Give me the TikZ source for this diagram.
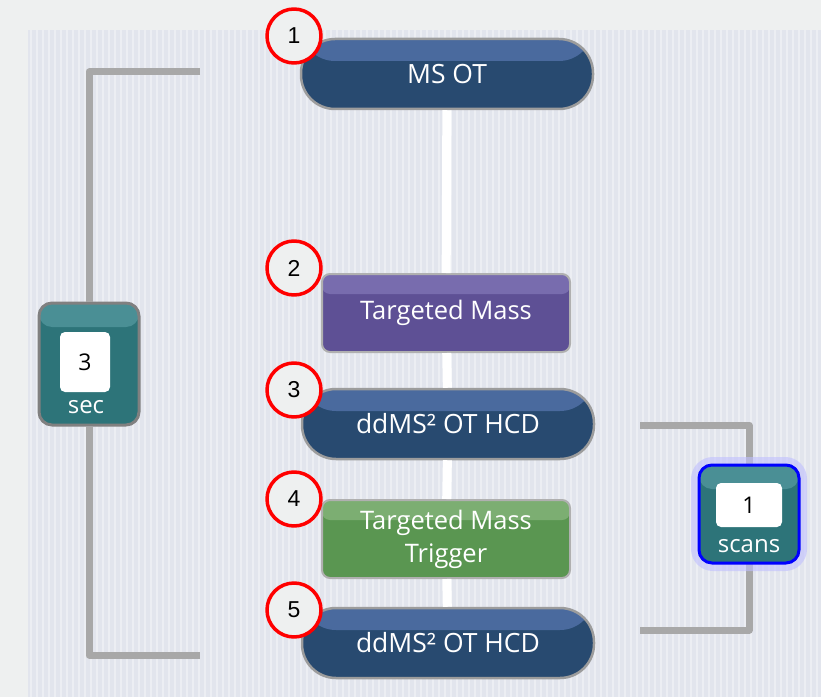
\documentclass[tikz,border=0pt]{standalone}
\usepackage{fontspec}
\setmainfont{Open Sans}
\newfontfamily\numfont{Liberation Sans}
\usetikzlibrary{positioning}
\definecolor{outer}{HTML}{EEF0F0}
\definecolor{panel}{HTML}{E2E5ED}
\definecolor{pill}{HTML}{284A70}
\definecolor{pilltop}{HTML}{4A6A9E}
\definecolor{purp}{HTML}{5E5095}
\definecolor{purptop}{HTML}{786CAE}
\definecolor{grn}{HTML}{5A9651}
\definecolor{grntop}{HTML}{7CAE72}
\definecolor{teal}{HTML}{2D7479}
\definecolor{tealtop}{HTML}{4A8F95}
\definecolor{brk}{HTML}{A8A8A8}
\definecolor{rim}{HTML}{9C9C9C}
\begin{document}
\begin{tikzpicture}[x=1pt,y=-1pt,line join=round,
  band/.style 2 args={path picture={\fill[#1] (path picture bounding box.north west) rectangle ([yshift=-#2]path picture bounding box.north east);}},
  stage/.style={draw=rim,line width=2.5pt,rounded corners=34pt,minimum width=292pt,minimum height=70pt,text=white,font=\fontsize{26.5}{28}\selectfont,fill=pill,band={pilltop}{22pt}},
  flag/.style={draw=rim!80,line width=2pt,rounded corners=8pt,minimum width=248pt,minimum height=78pt,text=white,font=\fontsize{25.5}{33}\selectfont,align=center},
  num/.style={circle,draw=red,line width=3.5pt,fill=outer,minimum size=54pt,inner sep=0pt,font=\numfont\fontsize{23}{25}\selectfont},
  timer/.style={draw=#1,line width=3pt,rounded corners=13pt,fill=teal,band={tealtop}{24pt}},
  valbox/.style={fill=white,rounded corners=5pt,inner sep=0pt,font=\fontsize{23}{26}\selectfont},
  unit/.style={text=white,inner sep=0pt,font=\fontsize{24}{26}\selectfont},
  bracket/.style={brk,line width=7pt},
  link/.style={white,line width=9pt}]
% background and stripes
\fill[outer] (0,0) rectangle (821,697);
\fill[panel] (28,30) rectangle (821,697);
\foreach \x in {31,37,...,821}
  \draw[white,opacity=.35,line width=1.5pt] (\x,30) -- (\x,697);
% method steps
\node[stage] (ms) at (447,74) {MS OT};
\node[flag,fill=purp,band={purptop}{20pt}] (tm) at (446,313) {Targeted Mass};
\node[stage] (hcda) at (448,424) {ddMS² OT HCD};
\node[flag,fill=grn,band={grntop}{20pt}] (tmt) at (446,539) {Targeted Mass\\Trigger};
\node[stage] (hcdb) at (448,643) {ddMS² OT HCD};
\foreach \a/\b in {ms/tm,tm/hcda,hcda/tmt,tmt/hcdb}
  \draw[link] (\a) -- (\b);
\foreach \n/\y in {1/36,2/268,3/390,4/499,5/610}
  \node[num] (c\n) at (294,\y) {\n};
% cycle time
\node[timer=gray,minimum width=100pt,minimum height=122pt] (sec) at (89,364) {};
\node[valbox,minimum width=50pt,minimum height=60pt] (secval) at (85,362) {3};
\node[unit] (secunit) at (86,407) {sec};
\coordinate (lt) at (200,72);
\coordinate (lb) at (200,655);
\draw[bracket] (lt) -| (sec.north);
\draw[bracket] (sec.south) |- (lb);
% loop count
\coordinate (rt) at (640,425);
\coordinate (rb) at (640,630);
\draw[bracket] (rt) -| (749,466);
\draw[bracket] (749,562) |- (rb);
\node[draw=blue!25,line width=12pt,rounded corners=16pt,minimum width=104pt,minimum height=102pt,opacity=.6] (glow) at (749,514) {};
\node[timer=blue,minimum width=100pt,minimum height=98pt] (scans) at (749,514) {};
\node[valbox,minimum width=66pt,minimum height=44pt] (scansval) at (749,505) {1};
\node[unit] (scansunit) at (749,546) {scans};
\end{tikzpicture}
\end{document}
